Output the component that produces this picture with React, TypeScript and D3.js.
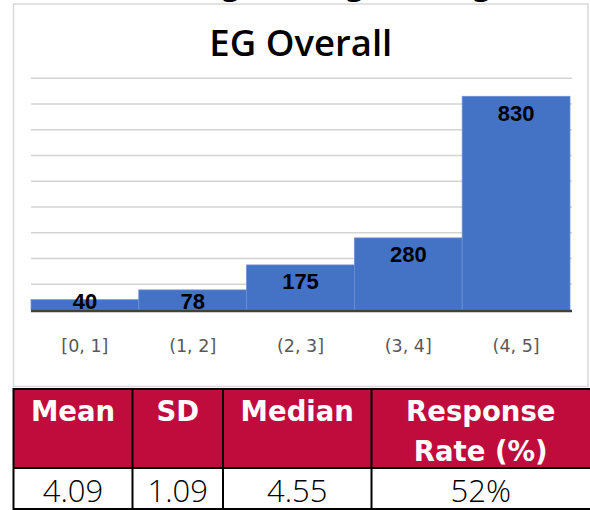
import React from "react";
import * as d3 from "d3";

const categories = ["[0, 1]", "(1, 2]", "(2, 3]", "(3, 4]", "(4, 5]"];
const counts = [40, 78, 175, 280, 830];
const yTicks = [0, 100, 200, 300, 400, 500, 600, 700, 800, 900];
const statHeaders = [["Mean"], ["SD"], ["Median"], ["Response", "Rate (%)"]];
const statValues = ["4.09", "1.09", "4.55", "52%"];
const colEdges = [13.5, 132.5, 223, 371.5, 590];

export default function App() {
  const x = d3.scaleBand<string>().domain(categories).range([31, 570]).padding(0);
  const y = d3.scaleLinear().domain([0, 900]).range([310, 78.3]);
  const labelFont = "'Liberation Sans', Arial, sans-serif";
  const headFont = "'DejaVu Sans', sans-serif";
  const crimson = "#C00C3C";

  return (
    <svg
      width={590}
      height={510}
      style={{ position: "fixed", left: 0, top: 0, display: "block", background: "#fff" }}
    >
      {/* cut-off heading descenders above frame */}
      {[231, 355, 482].map((cx, i) => (
        <text key={i} x={cx} y={-4} textAnchor="middle" fontFamily={headFont} fontWeight="bold" fontSize={30} fill="#000">
          g
        </text>
      ))}
      {/* chart frame */}
      <rect x={13.5} y={4} width={574.5} height={382.5} fill="#fff" stroke="#D9D9D9" strokeWidth={1.5} />
      <text x={300.8} y={56} textAnchor="middle" fontFamily="'Open Sans', sans-serif" fontWeight={600} fontSize={36.5} fill="#000">
        EG Overall
      </text>
      {/* gridlines */}
      {yTicks.slice(1).map((t) => (
        <line key={t} x1={31} x2={572} y1={y(t)} y2={y(t)} stroke="#D3D3D3" strokeWidth={1.5} />
      ))}
      {/* bars */}
      {categories.map((c, i) => (
        <rect
          key={c}
          x={x(c)!}
          y={y(counts[i])}
          width={x.bandwidth()}
          height={y(0) - y(counts[i])}
          fill="#4472C4"
          stroke="#6C8FD2"
          strokeWidth={0.8}
        />
      ))}
      {/* axis line */}
      <line x1={31} x2={572} y1={y(0) + 1} y2={y(0) + 1} stroke="#404040" strokeWidth={2.6} />
      {/* value labels */}
      {categories.map((c, i) => (
        <text
          key={c}
          x={x(c)! + x.bandwidth() / 2}
          y={Math.min(y(counts[i]) + 24.5, 308.8)}
          textAnchor="middle"
          fontFamily={labelFont}
          fontWeight="bold"
          fontSize={22}
          fill="#000"
        >
          {counts[i]}
        </text>
      ))}
      {/* category labels */}
      {categories.map((c) => (
        <text key={c} x={x(c)! + x.bandwidth() / 2} y={351.5} textAnchor="middle" fontFamily={headFont} fontSize={17.5} fill="#595959">
          {c}
        </text>
      ))}
      {/* table */}
      <rect x={colEdges[0]} y={389} width={colEdges[4] - colEdges[0]} height={79} fill={crimson} />
      <rect x={colEdges[0]} y={468} width={colEdges[4] - colEdges[0]} height={41} fill="#fff" />
      {statHeaders.map((lines, i) => {
        const cx = (colEdges[i] + colEdges[i + 1]) / 2;
        return lines.map((ln, j) => (
          <text key={i + "-" + j} x={cx} y={421 + j * 40} textAnchor="middle" fontFamily={headFont} fontWeight="bold" fontSize={27.5} fill="#fff">
            {ln}
          </text>
        ));
      })}
      {statValues.map((v, i) => (
        <text
          key={v}
          x={(colEdges[i] + colEdges[i + 1]) / 2}
          y={501.5}
          textAnchor="middle"
          fontFamily="'Open Sans', sans-serif"
          fontWeight={300}
          fontSize={31}
          fill="#000"
        >
          {v}
        </text>
      ))}
      {/* table borders */}
      <line x1={colEdges[0]} x2={590} y1={389} y2={389} stroke="#000" strokeWidth={2} />
      <line x1={colEdges[0]} x2={590} y1={468} y2={468} stroke="#000" strokeWidth={2} />
      <line x1={colEdges[0]} x2={590} y1={509} y2={509} stroke="#000" strokeWidth={2} />
      {colEdges.slice(0, 4).map((e, i) => (
        <line key={i} x1={e} x2={e} y1={388} y2={510} stroke="#000" strokeWidth={2} />
      ))}
    </svg>
  );
}
